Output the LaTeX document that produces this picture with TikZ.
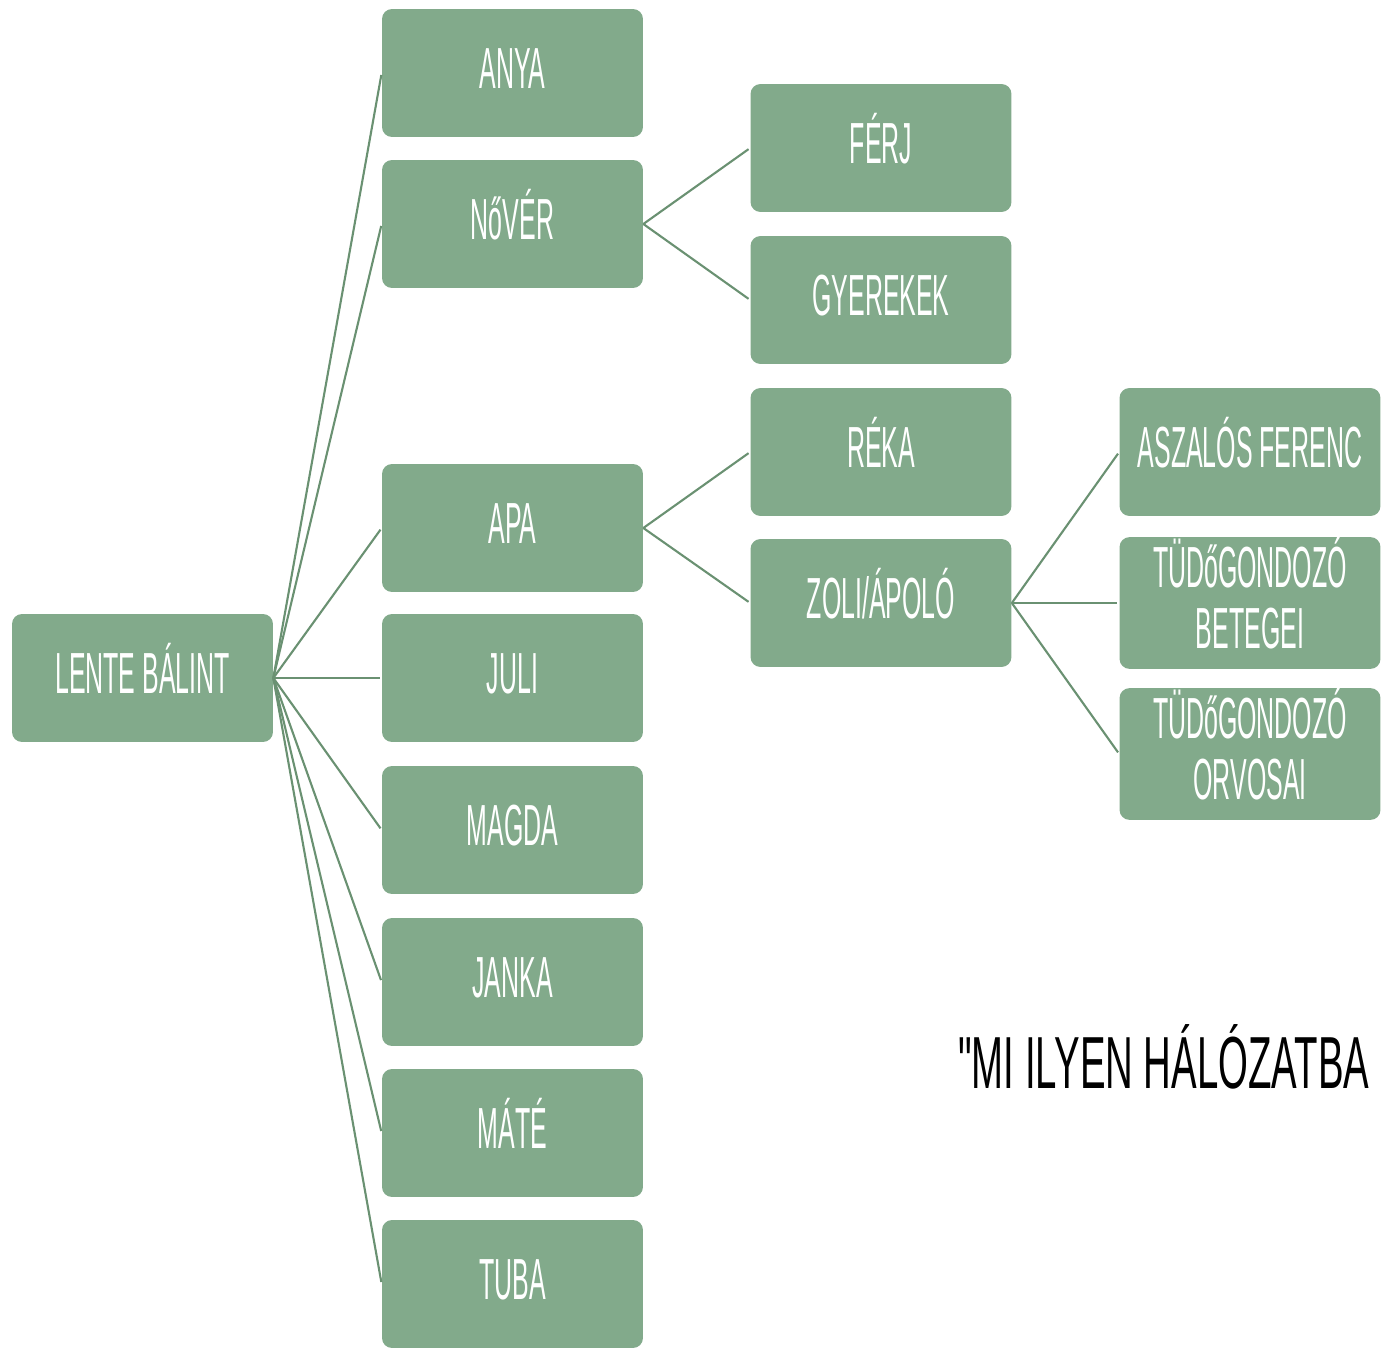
\documentclass[tikz,border=0pt]{standalone}
\usepackage{fontspec}
\newfontfamily\boxfont[FakeStretch=0.43]{Liberation Sans}
\newfontfamily\quotefont[FakeStretch=0.52]{Liberation Sans}
\definecolor{boxgreen}{RGB}{130,170,139}
\definecolor{linegreen}{RGB}{106,145,114}
\tikzset{
  boxbase/.style={rectangle, rounded corners=0.2cm, fill=boxgreen, text=white,
    minimum width=5.22cm, minimum height=2.56cm, inner sep=0pt, align=center,
    font=\boxfont\fontsize{33}{35}\selectfont},
  member/.style={boxbase, text height=0.83cm, text depth=0.21cm},
  member2/.style={boxbase},
  tie/.style={draw=linegreen, line width=1.2pt, shorten >=0.04cm}
}
\begin{document}
\begin{tikzpicture}[x=0.02cm, y=-0.02cm]
        \useasboundingbox (0,0) rectangle (1386,1348);
        % nodes
        \node[member] (lb) at (142.5,678) {LENTE BÁLINT};
        \node[member] (anya) at (512.5,73) {ANYA};
        \node[member] (nover) at (512.5,224) {NőVÉR};
        \node[member] (apa) at (512.5,528) {APA};
        \node[member] (juli) at (512.5,678) {JULI};
        \node[member] (magda) at (512.5,830) {MAGDA};
        \node[member] (janka) at (512.5,982) {JANKA};
        \node[member] (mate) at (512.5,1133) {MÁTÉ};
        \node[member] (tuba) at (512.5,1284) {TUBA};
        \node[member] (ferj) at (881,148) {FÉRJ};
        \node[member] (gyerek) at (881,300) {GYEREKEK};
        \node[member] (reka) at (881,452) {RÉKA};
        \node[member] (zoli) at (881,603) {ZOLI/ÁPOLÓ};
        \node[member] (aszalos) at (1250,452) {ASZALÓS FERENC};
        \node[member2] (beteg) at (1250,603) {TÜDőGONDOZÓ\\BETEGEI\rule[-0.4cm]{0pt}{0pt}};
        \node[member2] (orvos) at (1250,754) {TÜDőGONDOZÓ\\ORVOSAI\rule[-0.4cm]{0pt}{0pt}};
        % quote
        \node[anchor=base west, inner sep=0pt, font=\quotefont\fontsize{42}{44}\selectfont] (quote) at (958,1088) {"MI ILYEN HÁLÓZATBA};
        % edges
        \foreach \k in {anya,nover,apa,juli,magda,janka,mate,tuba}
          \draw[tie] (lb.east) -- (\k.west);
        \draw[tie] (nover.east) -- (ferj.west);
        \draw[tie] (nover.east) -- (gyerek.west);
        \draw[tie] (apa.east) -- (reka.west);
        \draw[tie] (apa.east) -- (zoli.west);
        \foreach \k in {aszalos,beteg,orvos}
          \draw[tie] (zoli.east) -- (\k.west);
      \end{tikzpicture}
\end{document}
